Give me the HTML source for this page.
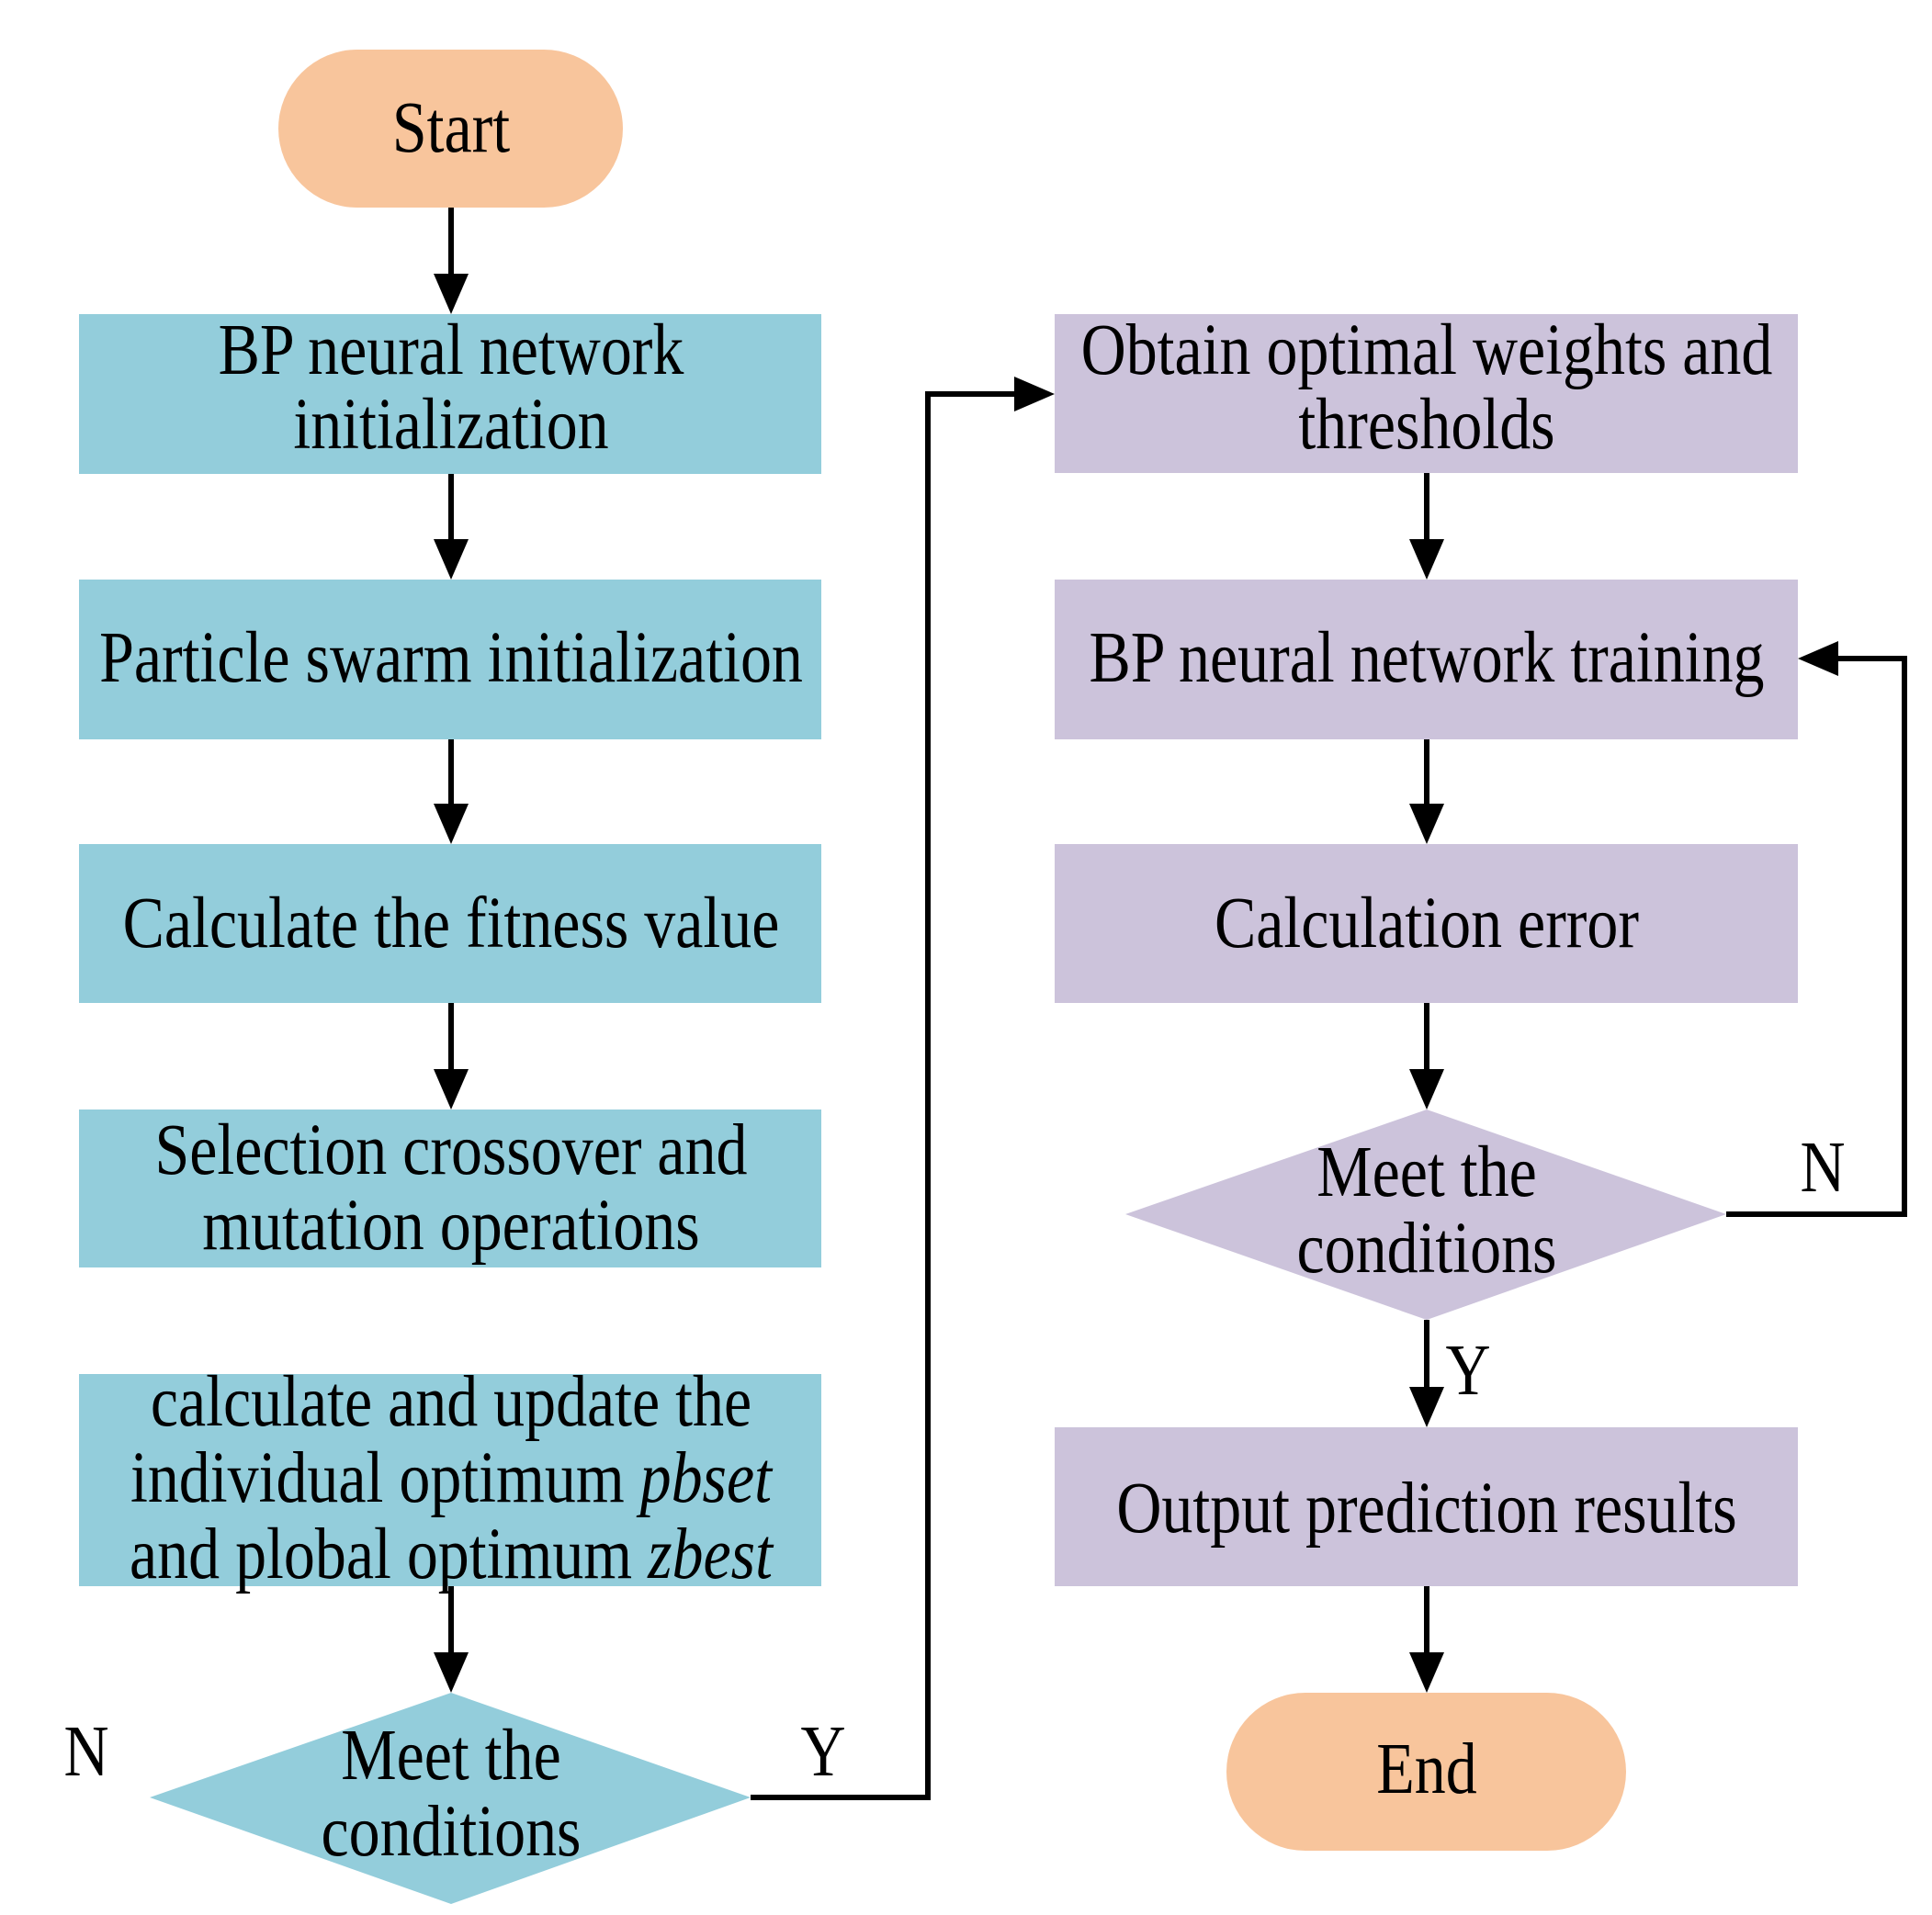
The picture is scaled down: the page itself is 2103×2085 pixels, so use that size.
<!DOCTYPE html>
<html><head><meta charset="utf-8"><style>
html,body{margin:0;padding:0;background:#fff;}
svg{display:block;}
text{font-family:"Liberation Serif",serif;font-size:79px;fill:#000;text-anchor:middle;}
</style></head><body>
<svg width="2103" height="2085" viewBox="0 0 2103 2085" xmlns="http://www.w3.org/2000/svg">
<rect x="303" y="54" width="375" height="172" rx="86" fill="#F8C59C"/>
<rect x="86" y="342" width="808" height="174" fill="#93CDDB"/>
<rect x="86" y="631" width="808" height="174" fill="#93CDDB"/>
<rect x="86" y="919" width="808" height="173" fill="#93CDDB"/>
<rect x="86" y="1208" width="808" height="172" fill="#93CDDB"/>
<rect x="86" y="1496" width="808" height="231" fill="#93CDDB"/>
<polygon points="491,1843 817,1957 491,2073 163,1957" fill="#93CDDB"/>

<rect x="1148" y="342" width="809" height="173" fill="#CCC3DB"/>
<rect x="1148" y="631" width="809" height="174" fill="#CCC3DB"/>
<rect x="1148" y="919" width="809" height="173" fill="#CCC3DB"/>
<polygon points="1553,1208 1879,1322 1553,1437 1225,1322" fill="#CCC3DB"/>
<rect x="1148" y="1554" width="809" height="173" fill="#CCC3DB"/>
<rect x="1335" y="1843" width="435" height="172" rx="86" fill="#F8C59C"/>

<g stroke="#000" stroke-width="6" fill="none">
<line x1="491" y1="226" x2="491" y2="310"/>
<line x1="491" y1="516" x2="491" y2="600"/>
<line x1="491" y1="805" x2="491" y2="888"/>
<line x1="491" y1="1092" x2="491" y2="1177"/>
<line x1="491" y1="1727" x2="491" y2="1812"/>
<polyline points="817,1957 1010,1957 1010,429 1118,429"/>
<line x1="1553" y1="515" x2="1553" y2="600"/>
<line x1="1553" y1="805" x2="1553" y2="888"/>
<line x1="1553" y1="1092" x2="1553" y2="1177"/>
<polyline points="1879,1322 2073,1322 2073,717 1988,717"/>
<line x1="1553" y1="1437" x2="1553" y2="1523"/>
<line x1="1553" y1="1727" x2="1553" y2="1812"/>
</g>
<g fill="#000">
<polygon points="472,298 510,298 491,342"/>
<polygon points="472,587 510,587 491,631"/>
<polygon points="472,875 510,875 491,919"/>
<polygon points="472,1164 510,1164 491,1208"/>
<polygon points="472,1799 510,1799 491,1843"/>
<polygon points="1104,410 1104,448 1148,429"/>
<polygon points="1534,587 1572,587 1553,631"/>
<polygon points="1534,875 1572,875 1553,919"/>
<polygon points="1534,1164 1572,1164 1553,1208"/>
<polygon points="2001,698 2001,736 1957,717"/>
<polygon points="1534,1510 1572,1510 1553,1554"/>
<polygon points="1534,1799 1572,1799 1553,1843"/>
</g>

<g transform="matrix(0.86 0 0 1 68.74 0)">
<text x="491" y="165">Start</text>
<text x="491" y="407">BP neural network</text>
<text x="491" y="488">initialization</text>
<text x="491" y="742">Particle swarm initialization</text>
<text x="491" y="1031">Calculate the fitness value</text>
<text x="491" y="1278">Selection crossover and</text>
<text x="491" y="1360">mutation operations</text>
<text x="491" y="1552">calculate and update the</text>
<text x="491" y="1635">individual optimum <tspan font-style="italic">pbset</tspan></text>
<text x="491" y="1718">and plobal optimum <tspan font-style="italic">zbest</tspan></text>
<text x="491" y="1937">Meet the</text>
<text x="491" y="2020">conditions</text>
</g>
<g transform="matrix(0.86 0 0 1 217.42 0)">
<text x="1553" y="407">Obtain optimal weights and</text>
<text x="1553" y="488">thresholds</text>
<text x="1553" y="742">BP neural network training</text>
<text x="1553" y="1031">Calculation error</text>
<text x="1553" y="1302">Meet the</text>
<text x="1553" y="1385">conditions</text>
<text x="1553" y="1668">Output prediction results</text>
<text x="1553" y="1952">End</text>
</g>
<text x="94" y="1933" transform="matrix(0.86 0 0 1 13.16 0)">N</text>
<text x="896" y="1933" transform="matrix(0.86 0 0 1 125.44 0)">Y</text>
<text x="1984" y="1297" transform="matrix(0.86 0 0 1 277.76 0)">N</text>
<text x="1598" y="1518" transform="matrix(0.86 0 0 1 223.72 0)">Y</text>
</svg>
</body></html>
